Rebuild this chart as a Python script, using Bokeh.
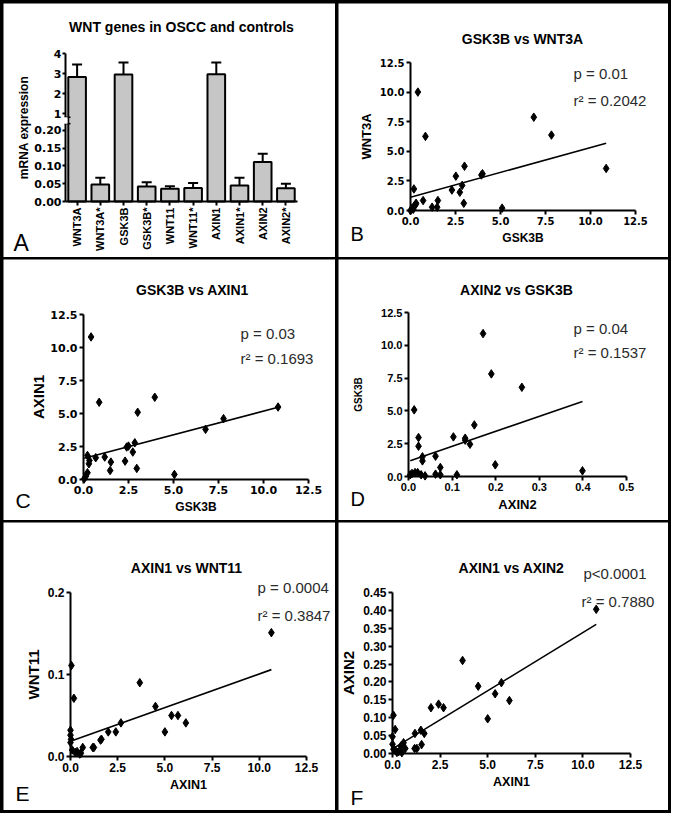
import math
from bokeh.plotting import figure
from bokeh.models import (Range1d, FixedTicker, PrintfTickFormatter, BoxAnnotation,
                          Label, Whisker, TeeHead, ColumnDataSource)
from bokeh.layouts import gridplot
from bokeh.embed import file_html
from bokeh.resources import INLINE

# ---------------- data ----------------
# Panel A: mean mRNA expression and upper error (mean + SEM)
genes = ["WNT3A", "WNT3A*", "GSK3B", "GSK3B*", "WNT11", "WNT11*",
         "AXIN1", "AXIN1*", "AXIN2", "AXIN2*"]
expr_mean = [2.83, 0.048, 2.95, 0.042, 0.036, 0.038, 2.97, 0.045, 0.111, 0.0375]
expr_upper = [3.45, 0.067, 3.55, 0.054, 0.043, 0.052, 3.55, 0.067, 0.134, 0.050]
a_lower_ticks = [0.0, 0.05, 0.10, 0.15, 0.20]
a_lower_labels = ["0.00", "0.05", "0.10", "0.15", "0.20"]
a_upper_ticks = [1, 2, 3, 4]
a_upper_labels = ["1", "2", "3", "4"]

# Panel B: GSK3B (x) vs WNT3A (y)
b_x = [0.41, 0.83, 6.85, 7.83, 10.87, 0.19, 3.0, 2.52, 3.94, 4.0, 2.3, 2.87, 2.74,
       2.96, 1.52, 1.48, 1.2, 0.70, 0.31, 0.22, 0.09, 0.0, 5.09, 0.28, 0.15]
b_y = [10.0, 6.26, 7.88, 6.37, 3.55, 1.82, 3.74, 2.9, 3.0, 3.1, 1.73, 2.12, 1.54,
       0.61, 0.84, 0.28, 0.28, 0.84, 0.61, 0.42, 0.2, 0.0, 0.2, 0.48, 0.1]
b_fit = (1.12, 0.42)          # intercept, slope
b_stats = ("p = 0.01", "r² = 0.2042")

# Panel C: GSK3B (x) vs AXIN1 (y)
c_x = [0.42, 0.87, 3.96, 3.01, 10.81, 7.78, 6.78, 2.85, 2.5, 2.4, 2.74, 2.31, 2.96,
       1.52, 1.48, 1.18, 0.68, 0.22, 0.3, 0.33, 0.22, 0.13, 0.04, 5.05]
c_y = [10.8, 5.85, 6.23, 5.09, 5.49, 4.61, 3.8, 2.78, 2.53, 2.46, 2.08, 1.39, 0.84,
       1.32, 0.68, 1.7, 1.65, 1.82, 1.19, 1.44, 0.51, 0.25, 0.05, 0.38]
c_fit = (1.60, 0.358)
c_stats = ("p = 0.03", "r² = 0.1693")

# Panel D: AXIN2 (x) vs GSK3B (y)
d_x = [0.171, 0.190, 0.26, 0.013, 0.151, 0.103, 0.13, 0.13, 0.141, 0.023, 0.023,
       0.032, 0.032, 0.062, 0.073, 0.062, 0.073, 0.111, 0.199, 0.399, 0.008, 0.015,
       0.021, 0.029, 0.004, 0.038]
d_y = [10.89, 7.82, 6.8, 5.08, 3.93, 3.02, 2.92, 2.77, 2.46, 2.97, 2.31, 1.5, 1.19,
       1.55, 0.69, 0.18, 0.13, 0.13, 0.89, 0.43, 0.23, 0.3, 0.3, 0.13, 0.13, 0.05]
d_fit = (1.15, 11.45)
d_stats = ("p = 0.04", "r² = 0.1537")

# Panel E: AXIN1 (x) vs WNT11 (y)
e_x = [10.64, 3.67, 0.05, 0.18, 4.5, 5.35, 5.69, 6.11, 5.0, 2.67, 2.4, 2.0, 1.59,
       1.64, 1.18, 1.24, 0.65, 0.0, 0.0, 0.03, 0.0, 0.09, 0.35, 0.49, 0.25, 0.55]
e_y = [0.151, 0.090, 0.111, 0.071, 0.061, 0.050, 0.050, 0.041, 0.030, 0.041, 0.030,
       0.030, 0.020, 0.021, 0.011, 0.011, 0.011, 0.032, 0.026, 0.021, 0.017, 0.008,
       0.006, 0.003, 0.005, 0.004]
e_fit = (0.0187, 0.0082)
e_stats = ("p = 0.0004", "r² = 0.3847")

# Panel F: AXIN1 (x) vs AXIN2 (y)
f_x = [10.7, 3.68, 4.5, 5.72, 5.39, 6.14, 5.0, 2.42, 2.02, 2.68, 1.49, 1.67, 1.18,
       1.53, 1.16, 1.28, 0.05, 0.14, 0.58, 0.67, 0.44, 0.0, 0.0, 0.14, 0.32, 0.49,
       0.23, 0.05]
f_y = [0.403, 0.26, 0.188, 0.198, 0.167, 0.148, 0.097, 0.138, 0.128, 0.128, 0.065,
       0.056, 0.056, 0.025, 0.014, 0.014, 0.107, 0.067, 0.03, 0.014, 0.021, 0.047,
       0.026, 0.009, 0.005, 0.002, 0.003, 0.012]
f_fit = (0.013, 0.0325)
f_stats = ("p<0.0001", "r² = 0.7880")

ticks_12_5 = [0, 2.5, 5.0, 7.5, 10.0, 12.5]
ticks_axin2 = [0.0, 0.1, 0.2, 0.3, 0.4, 0.5]
ticks_wnt11 = [0.0, 0.1, 0.2]
ticks_axin2_y = [0.0, 0.05, 0.10, 0.15, 0.20, 0.25, 0.30, 0.35, 0.40, 0.45]

# ---------------- layout helpers ----------------
SANS = "Liberation Sans"
DEJ = "DejaVu Sans"


class Panel:
    """A figure whose frame fills the whole panel; axes are pinned inside it."""

    def __init__(self, ox, oy, w, h, xmap, ymap):
        # xmap = (v0, px0, v1, px1): page pixels of two axis values
        self.ox, self.oy, self.w, self.h = ox, oy, w, h
        v0, p0, v1, p1 = xmap
        s = (v1 - v0) / (p1 - p0)
        self.xs = s
        xr = Range1d(v0 + (ox - p0) * s, v0 + (ox + w - p0) * s)
        v0, p0, v1, p1 = ymap
        s = (v1 - v0) / (p1 - p0)
        self.ys = s
        yr = Range1d(v0 + (oy + h - p0) * s, v0 + (oy - p0) * s)
        p = figure(width=w, height=h, x_range=xr, y_range=yr, output_backend="svg",
                   toolbar_location=None, min_border=0)
        p.min_border_left = p.min_border_right = 0
        p.min_border_top = p.min_border_bottom = 0
        p.title.visible = False
        p.outline_line_color = None
        p.grid.visible = False
        p.background_fill_color = "white"
        p.border_fill_color = "white"
        self.p = p

    def text(self, ax, ay, text, size, bold=False, align="left",
             baseline="alphabetic", color="black", font=SANS):
        self.p.add_layout(Label(x=ax - self.ox, y=self.oy + self.h - ay,
                                x_units="screen", y_units="screen", text=text,
                                text_font=font, text_font_size=size,
                                text_font_style="bold" if bold else "normal",
                                text_align=align, text_baseline=baseline,
                                text_color=color))


def style_axis(ax, font, size, label_size, label_standoff, tick_out=4, standoff=2):
    ax.axis_line_width = 2
    ax.axis_line_color = "black"
    ax.major_tick_line_width = 2
    ax.major_tick_line_color = "black"
    ax.major_tick_out = tick_out
    ax.major_tick_in = 0
    ax.minor_tick_line_color = None
    ax.major_label_text_font = font
    ax.major_label_text_font_style = "bold"
    ax.major_label_text_font_size = size
    ax.major_label_text_color = "black"
    ax.major_label_standoff = standoff
    ax.axis_label_text_font = SANS
    ax.axis_label_text_font_style = "bold"
    ax.axis_label_text_font_size = label_size
    ax.axis_label_text_color = "black"
    ax.axis_label_standoff = label_standoff


def scatter_panel(origin, size, xmap, ymap, x, y, fit, xticks, yticks, xfmt, yfmt,
                  tick_font, tick_size, xlabel, ylabel, xl_size, yl_size,
                  title, title_pos, stats, p_pos, r_pos, letter, letter_pos,
                  letter_size, xl_stand=3, yl_stand=3):
    pn = Panel(origin[0], origin[1], size[0], size[1], xmap, ymap)
    p = pn.p
    xb = (xmap[0], xmap[2])
    yb = (ymap[0], ymap[2])
    p.xaxis.ticker = FixedTicker(ticks=xticks)
    p.yaxis.ticker = FixedTicker(ticks=yticks)
    p.xaxis.formatter = PrintfTickFormatter(format=xfmt)
    p.yaxis.formatter = PrintfTickFormatter(format=yfmt)
    p.xaxis.axis_label = xlabel
    p.yaxis.axis_label = ylabel
    p.xaxis.fixed_location = yb[0]
    p.yaxis.fixed_location = xb[0]
    p.xaxis.bounds = xb
    p.yaxis.bounds = yb
    style_axis(p.xaxis[0], tick_font, tick_size, xl_size, xl_stand)
    style_axis(p.yaxis[0], tick_font, tick_size, yl_size, yl_stand)
    x0, x1 = min(x), max(x)
    b0, b1 = fit
    p.line([x0, x1], [b0 + b1 * x0, b0 + b1 * x1], line_color="black", line_width=1.6)
    p.scatter(x, y, marker="diamond", size=8.5, color="black")
    pn.text(title_pos[0], title_pos[1], title, "14px", bold=True,
            align="center", baseline="middle")
    pn.text(p_pos[0], p_pos[1], stats[0], "15px", color="#2a2a2a")
    pn.text(r_pos[0], r_pos[1], stats[1], "15px", color="#2a2a2a")
    pn.text(letter_pos[0], letter_pos[1], letter, letter_size)
    return p


# ---------------- Panel A (broken y axis) ----------------
BREAK_LO = 0.20
BREAK_GAP = 0.0472
UPPER_SCALE = 0.0563


def broken(v):
    return v if v <= BREAK_LO else BREAK_LO + BREAK_GAP + (v - 1) * UPPER_SCALE


n = len(genes)
a_pos = [float(i) for i in range(n)]
pa = Panel(3, 3, 332, 254, (-0.5, 65, n - 0.5, 297), (0.0, 201, broken(4), 53))
pA = pa.p
a_src = ColumnDataSource(dict(x=a_pos, top=[broken(v) for v in expr_mean],
                              up=[broken(v) for v in expr_upper]))
pA.vbar(x="x", top="top", width=0.76, source=a_src, fill_color="#c6c6c6",
        line_color="black", line_width=2)
pA.add_layout(Whisker(base="x", lower="top", upper="up", source=a_src,
                      line_width=2, line_color="black",
                      upper_head=TeeHead(size=10, line_width=2, line_color="black"),
                      lower_head=None))
a_tick_vals = [broken(v) for v in a_lower_ticks + a_upper_ticks]
pA.yaxis.ticker = FixedTicker(ticks=a_tick_vals)
pA.yaxis.major_label_overrides = {tv: lab for tv, lab in
                                  zip(a_tick_vals, a_lower_labels + a_upper_labels)}
pA.xaxis.ticker = FixedTicker(ticks=a_pos)
pA.xaxis.major_label_overrides = {xv: g for xv, g in zip(a_pos, genes)}
pA.yaxis.axis_label = "mRNA expression"
pA.xaxis.fixed_location = 0.0
pA.yaxis.fixed_location = -0.5
pA.xaxis.bounds = (-0.5, n - 0.5)
pA.yaxis.bounds = (0.0, broken(4))
style_axis(pA.yaxis[0], DEJ, "11px", "12px", 0, tick_out=3, standoff=1)
style_axis(pA.xaxis[0], SANS, "11px", "12px", 3)
pA.xaxis.major_label_orientation = math.pi / 2

# axis break mark between the lower (0-0.20) and upper (1-4) segments
gap_lo = BREAK_LO + 0.40 * BREAK_GAP
gap_hi = BREAK_LO + 0.78 * BREAK_GAP
pA.add_layout(BoxAnnotation(left=-0.5 - 2 * pa.xs, right=-0.5 + 2 * pa.xs,
                            bottom=gap_lo, top=gap_hi, fill_color="white",
                            fill_alpha=1.0, line_color=None, level="overlay"))
pA.segment(x0=[-0.5 - 1 * pa.xs] * 2, x1=[-0.5 + 5 * pa.xs] * 2,
           y0=[gap_lo, gap_hi], y1=[gap_lo, gap_hi], line_color="black",
           line_width=1.5, level="overlay")

pa.text(181, 26, "WNT genes in OSCC and controls", "14px", bold=True,
        align="center", baseline="middle")
pa.text(13, 242, "A", "23px")

# ---------------- Scatter panels ----------------
pB = scatter_panel((338, 3), (330, 254), (0, 410, 12.5, 635), (0, 210, 12.5, 62),
                   b_x, b_y, b_fit, ticks_12_5, ticks_12_5, "%.1f", "%.1f",
                   DEJ, "10px", "GSK3B", "WNT3A", "12px", "13px",
                   "GSK3B vs WNT3A", (522, 38), b_stats, (573, 73), (573, 100),
                   "B", (350, 233), "20px")

pC = scatter_panel((3, 259), (332, 261), (0, 83, 12.5, 308), (0, 479, 12.5, 314),
                   c_x, c_y, c_fit, ticks_12_5, ticks_12_5, "%.1f", "%.1f",
                   DEJ, "11px", "GSK3B", "AXIN1", "12px", "15px",
                   "GSK3B vs AXIN1", (192, 289), c_stats, (240, 333), (240, 358),
                   "C", (15, 500), "21px", yl_stand=0)

pD = scatter_panel((338, 259), (330, 261), (0, 408, 0.5, 626), (0, 476, 12.5, 312),
                   d_x, d_y, d_fit, ticks_axin2, ticks_12_5, "%.1f", "%.1f",
                   SANS, "11px", "AXIN2", "GSK3B", "13px", "10px",
                   "AXIN2 vs GSK3B", (516, 289), d_stats, (573, 328), (573, 352),
                   "D", (350, 498), "20px", yl_stand=14)

pE = scatter_panel((3, 522), (332, 288), (0, 70, 12.5, 306), (0, 756, 0.2, 592),
                   e_x, e_y, e_fit, ticks_12_5, ticks_wnt11, "%.1f", "%.1f",
                   SANS, "12px", "AXIN1", "WNT11", "12.5px", "15px",
                   "AXIN1 vs WNT11", (186, 567), e_stats, (257, 587), (257, 615),
                   "E", (15, 793), "21px")

pF = scatter_panel((338, 522), (330, 288), (0, 392, 12.5, 630), (0, 753, 0.45, 592),
                   f_x, f_y, f_fit, ticks_12_5, ticks_axin2_y, "%.1f", "%.2f",
                   SANS, "12px", "AXIN1", "AXIN2", "12.5px", "15px",
                   "AXIN1 vs AXIN2", (511, 567), f_stats, (583, 573), (581, 601),
                   "F", (350, 797), "21px")

grid = gridplot([[pA, pB], [pC, pD], [pE, pF]], toolbar_location=None)
grid.spacing = (2, 3)
grid.styles = {"background-color": "black", "padding": "3px"}

open("out.html", "w").write(file_html(grid, INLINE))
